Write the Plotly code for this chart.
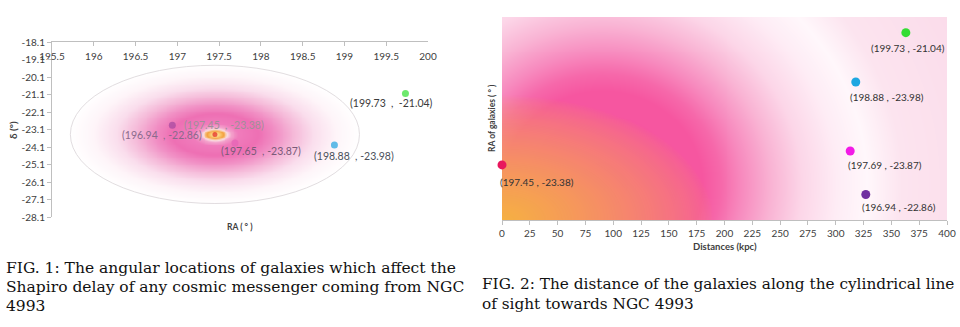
import numpy as np
import plotly.graph_objects as go

W, H = 960, 327

# ---------------- data: FIG. 1 (angular locations) ----------------
fig1_ra = [196.94, 197.45, 197.69, 198.88, 199.73]
fig1_dec = [-22.86, -23.38, -23.87, -23.98, -21.04]
fig1_labels = ["(196.94  , -22.86)", "(197.45  , -23.38)", "(197.65  , -23.87)",
               "(198.88  , -23.98)", "(199.73  ,  -21.04)"]
fig1_xticks = [195.5, 196, 196.5, 197, 197.5, 198, 198.5, 199, 199.5, 200]
fig1_yticks = [-18.1, -19.1, -20.1, -21.1, -22.1, -23.1, -24.1, -25.1, -26.1, -27.1, -28.1]
# extent of the elliptical halo around NGC 4993 (degrees)
halo_center = (197.45, -23.38)
halo_semi = (1.73, 3.95)

# ---------------- data: FIG. 2 (distances) ----------------
fig2_dist = [327, 0, 313, 318, 363]
fig2_ra = [196.94, 197.45, 197.69, 198.88, 199.73]
fig2_labels = ["(196.94 , -22.86)", "(197.45 , -23.38)", "(197.69 , -23.87)",
               "(198.88 , -23.98)", "(199.73 , -21.04)"]
fig2_xticks = [0, 25, 50, 75, 100, 125, 150, 175, 200, 225, 250, 275, 300, 325, 350, 375, 400]

caption1 = ["FIG. 1: The angular locations of galaxies which affect the",
            "Shapiro delay of any cosmic messenger coming from NGC",
            "4993"]
caption2 = ["FIG. 2: The distance of the galaxies along the cylindrical line",
            "of sight towards NGC 4993"]

# ---------------- styles ----------------
c1_colors = ["#a4479f", "#e3231c", "#e563b6", "#1ea3e0", "#2fe02f"]
c1_sizes = [7, 5, 7, 7, 7]
c1_txtcol = ["#8a6a8c", "#a09098", "#7a5a78", "#4a4f5a", "#3a3a3a"]
c1_shift = [(-10, -10), (9, 9), (26, -8), (20, -11), (-14, -10)]
c2_colors = ["#7030a0", "#e8175d", "#f21ae6", "#1ea7e1", "#33dd33"]
c2_shift = [(33, -13), (35, -17), (35, -14), (31, -15), (2, -15)]

# pixel layout
P1 = dict(l=52, r=428, t=42, b=217)
P2 = dict(l=502, r=947, t=17, b=220)


def xdom(p):
    return [p["l"] / W, p["r"] / W]


def ydom(p):
    return [1 - p["b"] / H, 1 - p["t"] / H]


fig = go.Figure()

# ---- FIG. 1 halo (decorative radial gradient) ----
x1r = [fig1_xticks[0], fig1_xticks[-1]]
y1r = [fig1_yticks[-1], fig1_yticks[0]]
gx = np.linspace(halo_center[0] - halo_semi[0], halo_center[0] + halo_semi[0], 320)
gy = np.linspace(halo_center[1] - halo_semi[1], halo_center[1] + halo_semi[1], 160)
GX, GY = np.meshgrid(gx, gy)
R = np.sqrt(((GX - halo_center[0]) / halo_semi[0]) ** 2 + ((GY - halo_center[1]) / halo_semi[1]) ** 2)
R = np.where(R <= 1.0, R, np.nan)
halo_scale = [[0.00, "#fff0c0"], [0.03, "#fbcf78"], [0.055, "#f4a340"], [0.072, "#f8c898"],
              [0.085, "#fadbe2"], [0.11, "#f4a2cc"], [0.16, "#f07cbc"], [0.30, "#ee70b4"],
              [0.42, "#f190c5"], [0.54, "#f5b8d8"], [0.68, "#fadeed"], [0.84, "#fef5f9"],
              [1.00, "#ffffff"]]
fig.add_trace(go.Heatmap(x=gx, y=gy, z=R, zmin=0, zmax=1, colorscale=halo_scale,
                         zsmooth="best", showscale=False, hoverinfo="skip",
                         xaxis="x", yaxis="y"))

fig.add_shape(type="circle", xref="x", yref="y",
              x0=halo_center[0] - halo_semi[0], x1=halo_center[0] + halo_semi[0],
              y0=halo_center[1] - halo_semi[1], y1=halo_center[1] + halo_semi[1],
              line=dict(color="#e2dde0", width=1))

fig.add_trace(go.Scatter(x=fig1_ra, y=fig1_dec, mode="markers",
                         marker=dict(color=c1_colors, size=c1_sizes, line=dict(width=0)),
                         xaxis="x", yaxis="y", hoverinfo="skip", showlegend=False))

for ra, de, t, col, (dx, dy) in zip(fig1_ra, fig1_dec, fig1_labels, c1_txtcol, c1_shift):
    fig.add_annotation(x=ra, y=de, xref="x", yref="y", text=t.replace(" ", "\u00a0"),
                       showarrow=False, xshift=dx, yshift=dy,
                       font=dict(family="Lato", size=10.5, color=col))

# ---- FIG. 2 background (decorative gradient) ----
x2r = [fig2_xticks[0], fig2_xticks[-1]]
y2r = [196.5, 200.0]
ppx = (P2["r"] - P2["l"]) / (x2r[1] - x2r[0])
ppy = (P2["b"] - P2["t"]) / (y2r[1] - y2r[0])
hx = np.linspace(x2r[0], x2r[1], 224)
hy = np.linspace(y2r[0], y2r[1], 104)
HX, HY = np.meshgrid(hx, hy)
PX = (HX - x2r[0]) * ppx
PY = (HY - y2r[0]) * ppy
D = np.sqrt((PX - 100) ** 2 + (1.06 * (PY - 35)) ** 2)
pink_scale = [[0 / 450, "rgb(246,84,160)"], [100 / 450, "rgb(246,86,160)"],
              [118 / 450, "rgb(246,104,170)"], [140 / 450, "rgb(247,138,190)"],
              [170 / 450, "rgb(249,180,212)"], [200 / 450, "rgb(252,214,232)"],
              [235 / 450, "rgb(254,236,245)"], [265 / 450, "rgb(255,247,251)"],
              [300 / 450, "rgb(252,228,239)"], [1.0, "rgb(250,214,231)"]]
fig.add_trace(go.Heatmap(x=hx, y=hy, z=D, zmin=0, zmax=450, colorscale=pink_scale,
                         zsmooth="best", showscale=False, hoverinfo="skip",
                         xaxis="x2", yaxis="y2"))
U = np.sqrt((PX / 210) ** 2 + (PY / 125) ** 2)
WO = np.clip(1 - U, 0, 1) ** 0.7
fig.add_trace(go.Heatmap(x=hx, y=hy, z=WO, zmin=0, zmax=1,
                         colorscale=[[0, "rgba(245,176,66,0)"], [1, "rgba(245,176,66,1)"]],
                         zsmooth="best", showscale=False, hoverinfo="skip",
                         xaxis="x2", yaxis="y2"))

fig.add_trace(go.Scatter(x=fig2_dist, y=fig2_ra, mode="markers",
                         marker=dict(color=c2_colors, size=9, line=dict(width=0)),
                         xaxis="x2", yaxis="y2", cliponaxis=False,
                         hoverinfo="skip", showlegend=False))
for d, ra, t, (dx, dy) in zip(fig2_dist, fig2_ra, fig2_labels, c2_shift):
    fig.add_annotation(x=d, y=ra, xref="x2", yref="y2", text=t.replace(" ", "\u00a0"),
                       showarrow=False, xshift=dx, yshift=dy,
                       font=dict(family="Lato", size=10, color="#333333"))


# ---- axis titles ----
def pxa(x, y, text, size, angle=0, bold=True, color="#404040"):
    fig.add_annotation(x=x / W, y=1 - y / H, xref="paper", yref="paper",
                       text=("<b>%s</b>" % text) if bold else text, showarrow=False,
                       textangle=angle, font=dict(family="Lato", size=size, color=color),
                       xanchor="center", yanchor="middle")


pxa(13, 130, "δ (°)", 10, angle=-90)
pxa(240, 227, "RA ( ° )", 8.5)
pxa(725, 247, "Distances (kpc)", 9.5)
pxa(492, 118, "RA of galaxies ( ° )", 8.5, angle=-90)

# ---- captions ----
for i, line in enumerate(caption1):
    fig.add_annotation(x=4 / W, y=1 - (268 + 19 * i) / H, xref="paper", yref="paper",
                       text=line, showarrow=False, xanchor="left", yanchor="middle",
                       font=dict(family="DejaVu Serif", size=15.5, color="#111111"))
for i, line in enumerate(caption2):
    fig.add_annotation(x=480 / W, y=1 - (284 + 20 * i) / H, xref="paper", yref="paper",
                       text=line, showarrow=False, xanchor="left", yanchor="middle",
                       font=dict(family="DejaVu Serif", size=15.3, color="#111111"))

tickfont = dict(family="Lato", size=10, color="#404040")
fig.update_layout(
    width=W, height=H, autosize=False,
    margin=dict(l=0, r=0, t=0, b=0, pad=0),
    paper_bgcolor="white", plot_bgcolor="rgba(0,0,0,0)",
    showlegend=False,
    xaxis=dict(domain=xdom(P1), range=x1r, side="top", anchor="y", automargin=False,
               tickvals=fig1_xticks, ticktext=[("%g" % v) for v in fig1_xticks],
               ticks="inside", ticklen=4, tickcolor="#bfbfbf",
               ticklabelposition="inside", ticklabeloverflow="allow",
               ticklabelstandoff=6,
               showline=True, linecolor="#bfbfbf", showgrid=False, zeroline=False,
               tickfont=tickfont, fixedrange=True),
    yaxis=dict(domain=ydom(P1), range=y1r, anchor="x", automargin=False,
               tickvals=fig1_yticks, ticktext=[("%.1f" % v) for v in fig1_yticks],
               ticks="outside", ticklen=4, tickcolor="#bfbfbf",
               showline=True, linecolor="#bfbfbf", showgrid=False, zeroline=False,
               tickfont=tickfont, fixedrange=True),
    xaxis2=dict(domain=xdom(P2), range=x2r, anchor="y2", automargin=False,
                tickvals=fig2_xticks, ticks="outside", ticklen=4, tickcolor="#bfbfbf",
                showline=True, linecolor="#bfbfbf", showgrid=False, zeroline=False,
                tickfont=tickfont, fixedrange=True),
    yaxis2=dict(domain=ydom(P2), range=y2r, anchor="x2", automargin=False,
                showticklabels=False, ticks="", showline=False,
                showgrid=False, zeroline=False, fixedrange=True),
)

fig.write_html("out.html")
